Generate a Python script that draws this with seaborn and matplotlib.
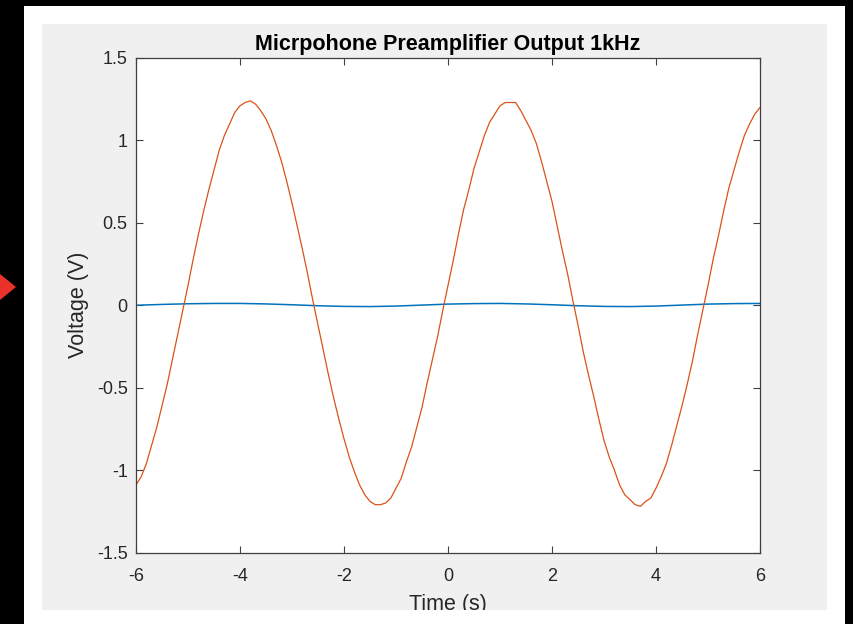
import numpy as np
import pandas as pd
import matplotlib
matplotlib.use("Agg")
import matplotlib.pyplot as plt
from matplotlib.patches import Rectangle, Polygon
import seaborn as sns

# ---------------- data ----------------
title = "Micrpohone Preamplifier Output 1kHz"
x_label = "Time (s)"
y_label = "Voltage (V)"
x_ticks = [-6, -4, -2, 0, 2, 4, 6]
y_ticks = [-1.5, -1, -0.5, 0, 0.5, 1, 1.5]

# preamplifier output (orange), sampled every 0.1 s from -6 to 6
out_time = np.round(np.arange(-6.0, 6.0001, 0.1), 1)
out_volt = [
    -1.09, -1.04, -0.96, -0.85, -0.74, -0.61, -0.48, -0.33, -0.18, -0.03,
     0.12,  0.28,  0.43,  0.57,  0.70,  0.82,  0.94,  1.03,  1.10,  1.17,
     1.21,  1.23,  1.24,  1.22,  1.18,  1.13,  1.06,  0.97,  0.87,  0.75,
     0.62,  0.48,  0.34,  0.19,  0.03, -0.12, -0.27, -0.42, -0.56, -0.69,
    -0.81, -0.92, -1.01, -1.09, -1.15, -1.19, -1.21, -1.21, -1.20, -1.17,
    -1.11, -1.05, -0.95, -0.86, -0.74, -0.62, -0.47, -0.33, -0.19, -0.03,
     0.12,  0.27,  0.43,  0.58,  0.70,  0.83,  0.93,  1.03,  1.11,  1.16,
     1.21,  1.23,  1.23,  1.23,  1.18,  1.12,  1.06,  0.98,  0.87,  0.75,
     0.63,  0.48,  0.33,  0.19,  0.03, -0.12, -0.28, -0.42, -0.55, -0.69,
    -0.82, -0.92, -1.00, -1.09, -1.15, -1.18, -1.21, -1.22, -1.19, -1.17,
    -1.11, -1.04, -0.96, -0.85, -0.73, -0.61, -0.48, -0.34, -0.18, -0.03,
     0.12,  0.28,  0.42,  0.57,  0.71,  0.82,  0.93,  1.03,  1.10,  1.16,
     1.20,
]

# microphone input (blue), sampled every 0.5 s
in_time = [-6, -5.5, -5, -4.5, -4, -3.5, -3, -2.5, -2, -1.5, -1, -0.5,
           0, 0.5, 1, 1.5, 2, 2.5, 3, 3.5, 4, 4.5, 5, 5.5, 6]
in_volt = [0.000, 0.005, 0.009, 0.011, 0.011, 0.008, 0.003, -0.003, -0.007,
           -0.008, -0.005, 0.001, 0.007, 0.010, 0.011, 0.008, 0.003, -0.003,
           -0.007, -0.008, -0.005, 0.001, 0.007, 0.010, 0.011]

# ---------------- styling ----------------
sns.set_theme(style="white")
plt.rcParams["font.family"] = ["Liberation Sans", "DejaVu Sans"]

W, H = 854, 624
fig = plt.figure(figsize=(W / 100, H / 100), dpi=100)
fig.patch.set_facecolor("black")

def fx(px):
    return px / W

def fy(py):
    return 1 - py / H

# white frame and grey MATLAB figure panel
fig.patches.append(Rectangle((fx(24), fy(624)), fx(821), 618 / H,
                             transform=fig.transFigure, facecolor="white",
                             edgecolor="none", zorder=-3))
fig.patches.append(Rectangle((fx(42), fy(610)), fx(785), 586 / H,
                             transform=fig.transFigure, facecolor="#f0f0f0",
                             edgecolor="none", zorder=-2))
# red pointer at the left edge
fig.patches.append(Polygon([(fx(0), fy(274)), (fx(16), fy(287)), (fx(0), fy(300))],
                           closed=True, transform=fig.transFigure,
                           facecolor="#e8322a", edgecolor="none", zorder=5))

ax_l, ax_r, ax_t, ax_b = 136, 760, 58, 552.5
ax = fig.add_axes([fx(ax_l), fy(ax_b), fx(ax_r - ax_l), (ax_b - ax_t) / H])
ax.set_facecolor("white")

df_out = pd.DataFrame({"t": out_time, "v": out_volt})
df_in = pd.DataFrame({"t": in_time, "v": in_volt})

sns.lineplot(data=df_in, x="t", y="v", ax=ax, color="#0072BD", linewidth=1.1,
             estimator=None, sort=False)
sns.lineplot(data=df_out, x="t", y="v", ax=ax, color="#D95319", linewidth=0.9,
             estimator=None, sort=False)

ax.set_xlim(-6, 6)
ax.set_ylim(-1.5, 1.5)
ax.set_xticks(x_ticks)
ax.set_xticklabels([f"{v:g}" for v in x_ticks])
ax.set_yticks(y_ticks)
ax.set_yticklabels([f"{v:g}" for v in y_ticks])

axis_col = "#404040"
text_col = "#262626"
for s in ax.spines.values():
    s.set_visible(True)
    s.set_color(axis_col)
    s.set_linewidth(0.9)

ax.tick_params(axis="both", which="major", direction="in", length=5, width=0.8,
               color=axis_col, labelcolor=text_col, labelsize=13,
               top=True, right=True, bottom=True, left=True)
ax.tick_params(axis="x", pad=11)
ax.tick_params(axis="y", pad=6)

ax.set_title(title, fontsize=15.5, fontweight="bold", color="black", pad=6)
ax.set_xlabel(x_label, fontsize=15.5, color=text_col)
ax.set_ylabel(y_label, fontsize=15.5, color=text_col)
ax.xaxis.set_label_coords(0.5, (ax_b - 594) / (ax_b - ax_t))
ax.yaxis.set_label_coords((89 - ax_l) / (ax_r - ax_l), 0.5)

# white strip below the grey panel that clips the x label, like the screenshot
fig.patches.append(Rectangle((fx(24), 0), fx(821), 14 / H,
                             transform=fig.transFigure, facecolor="white",
                             edgecolor="none", zorder=10))

fig.savefig("out.png", dpi=100, facecolor=fig.get_facecolor())
